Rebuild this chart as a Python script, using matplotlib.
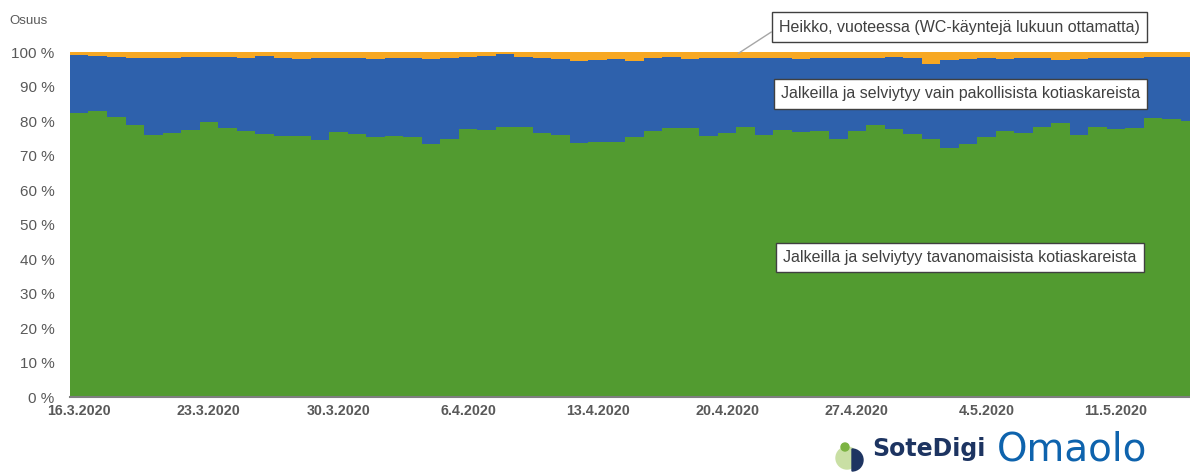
import matplotlib
matplotlib.use("Agg")
import matplotlib.pyplot as plt
from matplotlib.patches import Circle, Wedge
import numpy as np
import pandas as pd

# ---------------------------------------------------------------------------
# Data (daily shares, %)
# ---------------------------------------------------------------------------
start_date = "2020-03-16"

green_normal = [
    82.2, 83.0, 81.1, 78.8, 75.9, 76.4, 77.4, 79.8, 78.1, 77.1,
    76.2, 75.8, 75.7, 74.5, 76.8, 76.1, 75.3, 75.8, 75.5, 73.2,
    74.7, 77.7, 77.4, 78.2, 78.2, 76.6, 75.9, 73.5, 73.9, 73.8,
    75.3, 77.1, 77.9, 77.9, 75.7, 76.6, 78.2, 76.0, 77.4, 76.9,
    77.2, 74.8, 77.2, 78.8, 77.6, 76.2, 74.7, 72.1, 73.3, 75.5,
    77.2, 76.6, 78.2, 79.3, 75.9, 78.2, 77.6, 77.9, 80.8, 80.6,
    80.0,
]
blue_mandatory = [
    16.9, 15.9, 17.6, 19.6, 22.3, 21.8, 21.2, 18.8, 20.4, 21.2,
    22.6, 22.5, 22.3, 23.7, 21.6, 22.3, 22.7, 22.5, 22.8, 24.7,
    23.5, 20.9, 21.5, 21.2, 20.3, 21.6, 22.0, 24.0, 23.8, 24.1,
    22.2, 21.1, 20.7, 20.1, 22.5, 21.6, 20.0, 22.3, 20.9, 21.0,
    21.0, 23.6, 21.2, 19.4, 21.0, 22.0, 21.7, 25.6, 24.6, 22.7,
    20.8, 21.6, 20.0, 18.4, 22.1, 20.1, 20.8, 20.4, 17.8, 18.0,
    18.6,
]
orange_bed = [
    0.9, 1.1, 1.3, 1.6, 1.8, 1.8, 1.4, 1.4, 1.5, 1.7,
    1.2, 1.7, 2.0, 1.8, 1.6, 1.6, 2.0, 1.7, 1.7, 2.1,
    1.8, 1.4, 1.1, 0.6, 1.5, 1.8, 2.1, 2.5, 2.3, 2.1,
    2.5, 1.8, 1.4, 2.0, 1.8, 1.8, 1.8, 1.7, 1.7, 2.1,
    1.8, 1.6, 1.6, 1.8, 1.4, 1.8, 3.6, 2.3, 2.1, 1.8,
    2.0, 1.8, 1.8, 2.3, 2.0, 1.7, 1.6, 1.7, 1.4, 1.4,
    1.4,
]

label_normal = "Jalkeilla ja selviytyy tavanomaisista kotiaskareista"
label_mandatory = "Jalkeilla ja selviytyy vain pakollisista kotiaskareista"
label_bed = "Heikko, vuoteessa (WC-käyntejä lukuun ottamatta)"

GREEN = "#529B30"
BLUE = "#2E61AC"
ORANGE = "#F7A823"
TEXT = "#595959"

plt.rcParams["font.family"] = ["Liberation Sans", "DejaVu Sans"]

dates = pd.date_range(start_date, periods=len(green_normal), freq="D")
x = np.arange(len(dates))
g = np.array(green_normal)
b = np.array(blue_mandatory)
o = np.array(orange_bed)

# step edges: one extra point so the last day gets its full width
xs = np.append(x, len(x))
def ext(a):
    return np.append(a, a[-1])

fig = plt.figure(figsize=(11.9, 4.74), dpi=100)
ax = fig.add_axes([0.0588, 0.1624, 0.9412, 0.7278])

ax.fill_between(xs, 0, ext(g), step="post", color=GREEN, linewidth=0, zorder=2)
ax.fill_between(xs, ext(g), ext(g + b), step="post", color=BLUE, linewidth=0, zorder=2)
ax.fill_between(xs, ext(g + b), ext(g + b + o), step="post", color=ORANGE,
                linewidth=0, zorder=2)

ax.set_xlim(0, len(dates) - 0.5)
ax.set_ylim(0, 100)

ax.set_yticks(np.arange(0, 101, 10))
ax.set_yticklabels([f"{v} %" for v in range(0, 101, 10)], fontsize=11, color=TEXT)
ax.tick_params(axis="y", length=0, pad=11)

tick_idx = x[::7]
ax.set_xticks(tick_idx + 0.5)
ax.set_xticklabels([f"{d.day}.{d.month}.{d.year}" for d in dates[tick_idx]],
                   fontsize=10.3, color=TEXT, fontweight="bold")
ax.tick_params(axis="x", length=0, pad=5)

ax.grid(axis="y", color="#d9d9d9", linewidth=0.8, zorder=0)
ax.set_axisbelow(True)
for side in ["top", "right", "left"]:
    ax.spines[side].set_visible(False)
ax.spines["bottom"].set_color("#7f7f7f")
ax.spines["bottom"].set_linewidth(1.5)
ax.spines["bottom"].set_zorder(3)

fig.text(0.008, 0.955, "Osuus", fontsize=9.5, color=TEXT, va="center")

# annotation boxes
box = dict(boxstyle="square,pad=0.45", facecolor="white", edgecolor="#404040", linewidth=1)
ax.annotate(label_bed, xy=(36.1, 99.6), xycoords="data",
            xytext=(0.6546, 0.943), textcoords="figure fraction",
            fontsize=11.5, color="#404040", va="center", ha="left", bbox=box,
            arrowprops=dict(arrowstyle="-", color="#a6a6a6", linewidth=1,
                            shrinkA=0, shrinkB=0, relpos=(0, 0.5)))
fig.text(0.6563, 0.8017, label_mandatory, fontsize=11.5, color="#404040",
         va="center", ha="left", bbox=box)
fig.text(0.658, 0.4568, label_normal, fontsize=11.5, color="#404040",
         va="center", ha="left", bbox=box)

# logo
tr = fig.dpi_scale_trans
fig.patches.append(Circle((8.47, 0.16), 0.11, transform=tr, color="#c9dfa4", zorder=5))
fig.patches.append(Circle((8.45, 0.27), 0.04, transform=tr, color="#7cb342", zorder=5))
fig.patches.append(Wedge((8.52, 0.14), 0.11, -90, 90, transform=tr,
                         color="#1d3461", zorder=6))
fig.text(0.733, 0.028, "SoteDigi", fontsize=17, fontweight="bold",
         color="#1d3461", family=["DejaVu Sans"], va="bottom", ha="left")
fig.text(0.838, 0.012, "Omaolo", fontsize=28, color="#0e63ad",
         family=["DejaVu Sans"], va="bottom", ha="left")

fig.savefig("out.png", dpi=100)
